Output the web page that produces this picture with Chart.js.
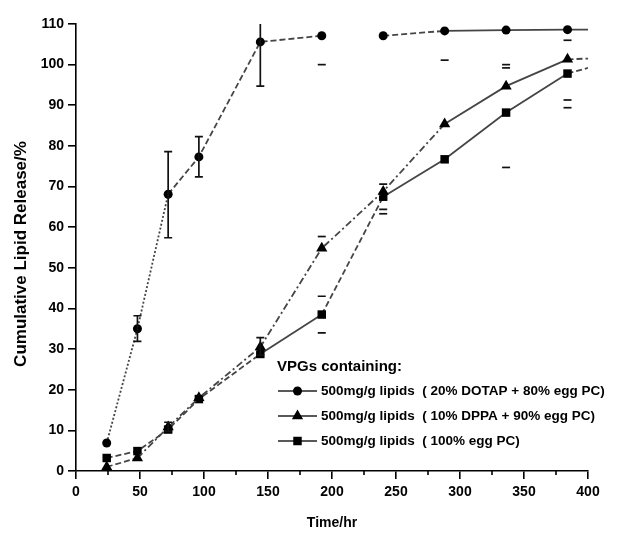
<!DOCTYPE html>
<html lang="en">
<head>
<meta charset="UTF-8">
<title>Cumulative Lipid Release</title>
<script src="https://cdn.jsdelivr.net/npm/chart.js"></script>
<style>
  body { margin:0; background:#fff; }
  #wrap { width:630px; height:534px; }
</style>
</head>
<body>
<div id="wrap"><canvas id="releaseChart" width="630" height="534"></canvas></div>

<script>
// sampling times (hr); last entry is where the curves run out to the axis end
const hours = [24, 48, 72, 96, 144, 192, 240, 288, 336, 384, 400];

// cumulative release, %
const dotap = [6.9, 35.0, 68.1, 77.3, 105.6, 107.1, 107.1, 108.3, 108.5, 108.6, 108.6];
const dppa  = [1.0, 3.2, 10.8, 18.0, 30.5, 54.8, 68.8, 85.4, 94.7, 101.3, 101.5];
const eggpc = [3.2, 4.9, 10.2, 17.7, 28.8, 38.5, 67.5, 76.7, 88.2, 97.8, 99.2];

// error bar ends (null = not shown), and whether the stem is drawn
const dotapLo = [null, 31.9, 57.4, 72.4, 94.7, 100.0, null, 101.1, 100.0, 106.0, null];
const dotapHi = [null, 38.2, 78.6, 82.3, 116.5, null, null, null, null, null, null];
const dotapStem = [false, true, true, true, true, false, false, false, false, false, false];
const dppaLo = [null, null, 9.8, null, 28.5, null, 64.4, null, null, 91.3, null];
const dppaHi = [null, null, 12.0, null, 32.8, 57.7, 70.6, null, 99.2, null, null];
const dppaStem = [false, false, true, false, true, false, false, false, false, false, false];
const eggpcLo = [null, null, null, null, null, 34.0, 63.3, null, 74.7, 89.4, null];
const eggpcHi = [null, null, null, null, null, 43.0, null, null, null, null, null];
const eggpcStem = [false, false, false, false, false, false, false, false, false, false, false];

// line pattern of each segment between neighbouring points
const dotapSeg = ['dot', 'dot', 'dash', 'dash', 'dash', 'none', 'dash', 'solid', 'solid', 'solid'];
const dppaSeg  = ['dash', 'dashdot', 'dashdot', 'dashdot', 'dashdot', 'dashdot', 'dashdot', 'solid', 'solid', 'dash'];
const eggpcSeg = ['dash', 'dash', 'dash', 'dash', 'solid', 'dash', 'solid', 'solid', 'solid', 'dash'];

const labels = [
  '500mg/g lipids  ( 20% DOTAP + 80% egg PC)',
  '500mg/g lipids  ( 10% DPPA + 90% egg PC)',
  '500mg/g lipids  ( 100% egg PC)'
];
const legendTitle = 'VPGs containing:';
const xTitle = 'Time/hr';
const yTitle = 'Cumulative Lipid Release/%';
const yTicks = [0, 10, 20, 30, 40, 50, 60, 70, 80, 90, 100, 110];
const xTicks = [0, 50, 100, 150, 200, 250, 300, 350, 400];

const FONT = "'Liberation Sans', Arial, sans-serif";
const dashes = { dot: [2, 2], dash: [6, 3], dashdot: [7, 3, 2, 3], solid: [], none: [] };
const LINE = '#454545';

function makeSet(label, values, seg, style, radius, lo, hi, stem) {
  return {
    label: label,
    data: hours.map((h, i) => ({ x: h, y: values[i] })),
    errLo: lo, errHi: hi, errStem: stem,
    markerSize: radius,
    borderColor: LINE,
    borderWidth: 1.8,
    pointStyle: style,
    pointRadius: ctx => (ctx.dataIndex === hours.length - 1 ? 0 : radius),
    pointBackgroundColor: '#000',
    pointBorderColor: '#000',
    pointBorderWidth: 0,
    fill: false,
    tension: 0,
    segment: {
      borderDash: ctx => dashes[seg[ctx.p0DataIndex]],
      borderColor: ctx => (seg[ctx.p0DataIndex] === 'none' ? 'rgba(0,0,0,0)' : LINE)
    }
  };
}

// error bars: stem plus short caps, kept inside the plot area
const errorBars = {
  id: 'errorBars',
  afterDatasetsDraw(chart) {
    const { ctx, scales } = chart;
    ctx.save();
    ctx.strokeStyle = '#111';
    ctx.lineWidth = 1.7;
    chart.data.datasets.forEach(ds => {
      ds.data.forEach((p, i) => {
        const x = scales.x.getPixelForValue(p.x);
        const lo = ds.errLo[i], hi = ds.errHi[i];
        const yLo = lo == null ? null : scales.y.getPixelForValue(lo);
        const yHi = hi == null ? null : scales.y.getPixelForValue(Math.min(hi, 110));
        ctx.beginPath();
        if (ds.errStem[i] && yLo != null && yHi != null) {
          ctx.moveTo(x, yLo); ctx.lineTo(x, yHi);
        }
        if (yLo != null) { ctx.moveTo(x - 4, yLo); ctx.lineTo(x + 4, yLo); }
        if (yHi != null && hi <= 110) { ctx.moveTo(x - 4, yHi); ctx.lineTo(x + 4, yHi); }
        ctx.stroke();
      });
    });
    ctx.restore();
  }
};

// short ticks halfway between the labelled hours, and the rotated y title
const axisExtras = {
  id: 'axisExtras',
  afterDraw(chart) {
    const { ctx, scales } = chart;
    const y0 = scales.y.getPixelForValue(0);
    ctx.save();
    ctx.strokeStyle = '#000';
    ctx.lineWidth = 1.6;
    ctx.beginPath();
    for (let v = 25; v < 400; v += 50) {
      const x = scales.x.getPixelForValue(v);
      ctx.moveTo(x, y0); ctx.lineTo(x, y0 + 4);
    }
    ctx.stroke();

    ctx.translate(21, 254);
    ctx.rotate(-Math.PI / 2);
    ctx.fillStyle = '#000';
    ctx.textAlign = 'center';
    ctx.textBaseline = 'middle';
    ctx.font = 'bold 17px ' + FONT;
    ctx.fillText(yTitle, 0, 0);
    ctx.restore();
  }
};

// legend inside the plot: heading, then line-marker-line swatch and text
const vpgLegend = {
  id: 'vpgLegend',
  afterDraw(chart) {
    const { ctx } = chart;
    ctx.save();
    ctx.fillStyle = '#000';
    ctx.textBaseline = 'middle';
    ctx.font = 'bold 15px ' + FONT;
    ctx.fillText(legendTitle, 277, 367);
    ctx.font = 'bold 13.5px ' + FONT;
    chart.data.datasets.forEach((ds, i) => {
      const y = 391 + i * 25;
      ctx.strokeStyle = '#222';
      ctx.lineWidth = 1.6;
      ctx.beginPath();
      ctx.moveTo(278, y); ctx.lineTo(317, y);
      ctx.stroke();
      ctx.fillStyle = '#000';
      Chart.helpers.drawPoint(ctx, { pointStyle: ds.pointStyle, radius: ds.markerSize, rotation: 0, borderWidth: 0 }, 297.5, y);
      ctx.fillText(ds.label, 321, y);
    });
    ctx.restore();
  }
};

const tickFont = { family: FONT, size: 14, weight: 'bold' };

new Chart(document.getElementById('releaseChart'), {
  type: 'line',
  data: {
    datasets: [
      makeSet(labels[0], dotap, dotapSeg, 'circle', 4.5, dotapLo, dotapHi, dotapStem),
      makeSet(labels[1], dppa, dppaSeg, 'triangle', 6.5, dppaLo, dppaHi, dppaStem),
      makeSet(labels[2], eggpc, eggpcSeg, 'rect', 6, eggpcLo, eggpcHi, eggpcStem)
    ]
  },
  options: {
    responsive: false,
    animation: false,
    layout: { padding: { top: 24, right: 42, left: 0, bottom: 0 } },
    plugins: { legend: { display: false }, tooltip: { enabled: false } },
    scales: {
      x: {
        type: 'linear', min: 0, max: 400,
        afterFit: s => { s.height = 63; },
        afterBuildTicks: s => { s.ticks = xTicks.map(v => ({ value: v })); },
        border: { display: true, color: '#000', width: 1.6 },
        grid: { display: true, drawOnChartArea: false, color: '#000', lineWidth: 1.6, tickLength: 8 },
        ticks: { color: '#000', font: tickFont, padding: 5, maxRotation: 0 },
        title: { display: true, text: xTitle, color: '#000', font: tickFont, padding: { top: 0, bottom: 2 } }
      },
      y: {
        type: 'linear', min: 0, max: 110,
        afterFit: s => { s.width = 76; },
        afterBuildTicks: s => { s.ticks = yTicks.map(v => ({ value: v })); },
        border: { display: true, color: '#000', width: 1.6 },
        grid: { display: true, drawOnChartArea: false, color: '#000', lineWidth: 1.6, tickLength: 8 },
        ticks: { color: '#000', font: tickFont, padding: 4 }
      }
    }
  },
  plugins: [errorBars, axisExtras, vpgLegend]
});
</script>
</body>
</html>
